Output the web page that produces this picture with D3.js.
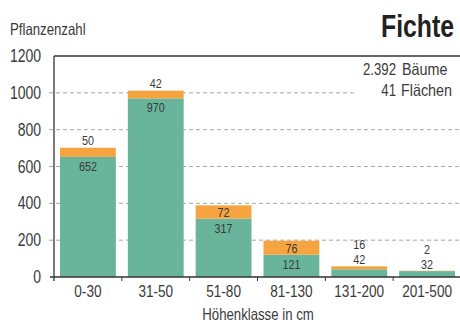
<!DOCTYPE html>
<html><head><meta charset="utf-8">
<script src="https://cdn.jsdelivr.net/npm/d3@7"></script>
<style>
html,body{margin:0;padding:0;background:#fff;}
text{font-family:"Liberation Sans","Arial",sans-serif;fill:#3a3a3a;}
</style></head>
<body><svg id="c" width="460" height="323"></svg>
<script>
const categories = ["0-30","31-50","51-80","81-130","131-200","201-500"];
const greenValues = [652, 970, 317, 121, 42, 32];
const orangeValues = [50, 42, 72, 76, 16, 2];
const yTicks = [0, 200, 400, 600, 800, 1000, 1200];
const gridValues = [200, 400, 600, 800, 1000];
const title = "Fichte";
const yTitle = "Pflanzenzahl";
const xTitle = "Höhenklasse in cm";
const infoNumbers = ["2.392", "41"];
const infoLabels = ["Bäume", "Flächen"];

const svg = d3.select("#c");
const x = d3.scaleBand().domain(categories).range([54, 461]).paddingInner(0.177).paddingOuter(0.0885);
const y = d3.scaleLinear().domain([0, 1200]).range([277, 56]);
const green = "#68b59b", orange = "#f5a440";
const SX = 0.8;

function label(px, py, txt, size, anchor, opts) {
  const sx = (opts && opts.sx) || SX;
  const t = svg.append("text")
    .attr("transform", `translate(${px},${py}) scale(${sx},1)`)
    .attr("text-anchor", anchor || "start")
    .attr("font-size", size).text(txt);
  if (opts && opts.bold) t.attr("font-weight", "bold");
  if (opts && opts.fill) t.style("fill", opts.fill);
  return t;
}

// gridlines
svg.append("g").selectAll("line").data(gridValues).join("line")
  .attr("x1", 49).attr("x2", d => d === 1000 ? 357 : 460)
  .attr("y1", d => y(d)).attr("y2", d => y(d))
  .attr("stroke", "#a8a8a8").attr("stroke-width", 1).attr("stroke-dasharray", "4,3");

// bars
const g = svg.append("g");
categories.forEach((c, i) => {
  const gv = greenValues[i], ov = orangeValues[i];
  g.append("rect").attr("x", x(c)).attr("width", x.bandwidth())
    .attr("y", y(gv)).attr("height", y(0) - y(gv)).attr("fill", green);
  g.append("rect").attr("x", x(c)).attr("width", x.bandwidth())
    .attr("y", y(gv + ov)).attr("height", y(gv) - y(gv + ov)).attr("fill", orange);
});

// labels
const cx = c => x(c) + x.bandwidth() / 2;
categories.forEach((c, i) => {
  const gv = greenValues[i], ov = orangeValues[i];
  const gH = y(0) - y(gv), oH = y(gv) - y(gv + ov);
  let gy, oy;
  if (gH > 16 && oH > 12) {
    oy = (y(gv) + y(gv + ov)) / 2 + 5;
    gy = y(gv) + 14;
  } else if (gH > 16) {
    oy = y(gv + ov) - 3;
    gy = y(gv) + 14;
  } else {
    gy = y(gv + ov) - 2;
    oy = gy - 15;
  }
  label(cx(c), oy, ov, 13.5, "middle");
  label(cx(c), gy, gv, 13.5, "middle");
});

// axes
svg.append("line").attr("x1", 54).attr("x2", 460).attr("y1", 56).attr("y2", 56)
  .attr("stroke", "#333").attr("stroke-width", 1.5);
svg.append("line").attr("x1", 54).attr("x2", 54).attr("y1", 56).attr("y2", 281)
  .attr("stroke", "#333").attr("stroke-width", 1.3);
svg.append("line").attr("x1", 50).attr("x2", 460).attr("y1", 277).attr("y2", 277)
  .attr("stroke", "#333").attr("stroke-width", 1.3);

// y ticks
yTicks.forEach(d => label(41, y(d) + 6, d, 17.5, "end"));

// x tick marks between bands
const bounds = categories.slice(1).map(c => x(c) - x.step() * x.paddingInner() / 2);
svg.append("g").selectAll("line").data(bounds).join("line")
  .attr("x1", d => d).attr("x2", d => d).attr("y1", 277).attr("y2", 281)
  .attr("stroke", "#333").attr("stroke-width", 1);

categories.forEach(d => label(cx(d), 297, d, 17, "middle"));

label(258, 320, xTitle, 16.5, "middle");
label(10, 35, yTitle, 16.5, "start");
label(454, 37, title, 31, "end", {bold: true, fill: "#222"});

infoNumbers.forEach((n, i) => {
  const yy = 75 + i * 21;
  label(396, yy, n, 16.5, "end");
  label(402 - i * 1, yy, infoLabels[i], 16.5, "start", {sx: 0.87});
});
</script></body></html>
